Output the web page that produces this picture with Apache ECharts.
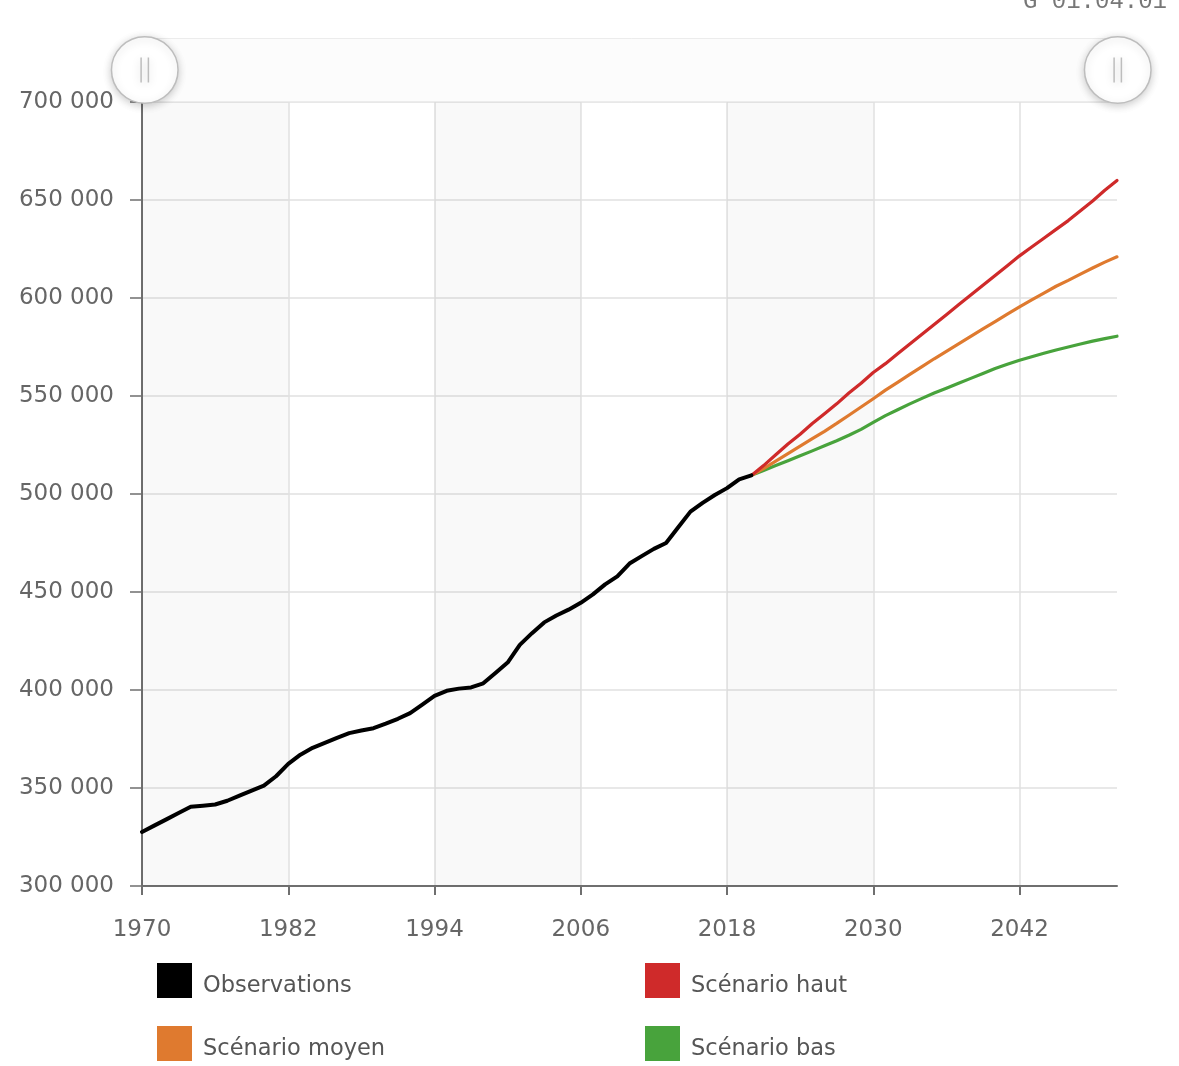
<!DOCTYPE html>
<html lang="fr">
<head>
<meta charset="utf-8">
<title>Population – observations et scénarios</title>
<script src="https://cdn.jsdelivr.net/npm/echarts@6/dist/echarts.min.js"></script>
<style>
  html, body { margin: 0; padding: 0; background: #ffffff; }
  #chart { width: 1179px; height: 1066px; }
</style>
</head>
<body>
<div id="chart"></div>
<script>
// Horizon of the chart: first and last year of the axis
const firstYear = 1970;
const lastYear = 2050;

// Ticks / labelled years on the horizontal axis (every 12 years)
const tickStep = 12;

// Observed population, one value per year from 1970 to 2020
const obsStart = 1970;
const observations = [
  327600, 330800, 334000, 337200, 340400, 341000, 341600, 343500, 346100, 348700,
  351200, 356000, 362300, 367000, 370500, 373000, 375600, 378000, 379300, 380500,
  382800, 385300, 388200, 392500, 397000, 399600, 400700, 401300, 403400, 408700,
  414000, 423000, 429000, 434500, 438000, 441000, 444500, 448800, 453900, 458000,
  464500, 468300, 472000, 475000, 483000, 491000, 495500, 499500, 503000, 507500,
  509500
];

// Projections, one value per year from 2020 to 2050
const projStart = 2020;
const scenarioHaut = [
  509500, 514500, 520000, 525500, 530500, 536000, 541000, 546000, 551500, 556500,
  562000, 566500, 571500, 576500, 581500, 586500, 591500, 596500, 601500, 606500,
  611500, 616500, 621500, 626000, 630500, 635000, 639500, 644500, 649500, 655000,
  660000
];
const scenarioMoyen = [
  509500, 513000, 516800, 520600, 524400, 528200, 532000, 536000, 540200, 544400,
  548600, 553000, 557000, 561000, 565000, 569000, 572800, 576600, 580400, 584200,
  588000, 591800, 595500, 599000, 602500, 606000, 609000, 612200, 615300, 618300,
  621000
];
const scenarioBas = [
  509500, 512000, 514500, 517000, 519500, 522000, 524600, 527200, 530000, 533000,
  536500, 540000, 543000, 546000, 548800, 551500, 554000, 556500, 559000, 561500,
  564000, 566200, 568200, 570000, 571800, 573500, 575000, 576500, 578000, 579300,
  580500
];

// Alternating shaded periods behind the curves
const shadedPeriods = [[1970, 1982], [1994, 2006], [2018, 2030]];

// Vertical axis range
const yMin = 300000;
const yMax = 700000;
const yStep = 50000;

// Series colours
const colors = {
  'Observations': '#000000',
  'Scénario haut': '#cf2a2a',
  'Scénario moyen': '#df7a2f',
  'Scénario bas': '#48a33c'
};

const years = [];
for (let y = firstYear; y <= lastYear; y++) years.push(String(y));

const toPairs = (start, values) => values.map((v, i) => [String(start + i), v]);

const fmtThousands = v => String(v).replace(/\B(?=(\d{3})+(?!\d))/g, ' ');

const font = 'DejaVu Sans, Verdana, sans-serif';

const lineSeries = (name, data, width, extra) => Object.assign({
  name: name,
  type: 'line',
  data: data,
  showSymbol: false,
  symbol: 'none',
  smooth: false,
  lineStyle: { width: width, color: colors[name], join: 'round', cap: 'round' },
  itemStyle: { color: colors[name] },
  emphasis: { disabled: true },
  animation: false
}, extra || {});

// Handle of the range slider: a circle with two vertical strokes
const handlePath = 'path://M0,-32 A32,32 0 1 1 0,32 A32,32 0 1 1 0,-32 Z ' +
  'M-3.5,-12 L-3.5,12 M3.5,-12 L3.5,12';

const legendBase = {
  orient: 'vertical',
  top: 963,
  padding: 0,
  itemWidth: 35,
  itemHeight: 35,
  itemGap: 28,
  icon: 'rect',
  selectedMode: false,
  formatter: name => '{t|' + name + '}',
  textStyle: {
    fontSize: 22.5,
    color: '#555555',
    fontFamily: font,
    rich: {
      t: {
        fontSize: 22.5,
        color: '#555555',
        fontFamily: font,
        padding: [11, 0, 0, 6]
      }
    }
  }
};

const chart = echarts.init(document.getElementById('chart'), null, { renderer: 'canvas' });

chart.setOption({
  backgroundColor: '#ffffff',
  animation: false,
  textStyle: { fontFamily: font },
  graphic: [{
    type: 'text',
    right: 12,
    top: -10,
    style: {
      text: 'G 01.04.01',
      font: '24px "Liberation Mono", monospace',
      fill: '#777777'
    }
  }],
  grid: { left: 142, right: 62, top: 102, bottom: 180, containLabel: false },
  dataZoom: [{
    type: 'slider',
    xAxisIndex: 0,
    filterMode: 'none',
    start: 0,
    end: 100,
    left: 142,
    right: 62,
    top: 38,
    height: 64,
    showDetail: false,
    showDataShadow: false,
    brushSelect: false,
    moveHandleSize: 0,
    backgroundColor: '#fcfcfc',
    borderColor: '#ececec',
    borderRadius: 0,
    fillerColor: 'rgba(0,0,0,0)',
    dataBackground: { lineStyle: { opacity: 0 }, areaStyle: { opacity: 0 } },
    selectedDataBackground: { lineStyle: { opacity: 0 }, areaStyle: { opacity: 0 } },
    handleIcon: handlePath,
    handleSize: '104%',
    handleStyle: {
      color: '#ffffff',
      borderColor: '#bdbdbd',
      borderWidth: 1.5,
      shadowBlur: 8,
      shadowColor: 'rgba(0,0,0,0.2)',
      shadowOffsetY: 2
    },
    emphasis: {
      handleStyle: { color: '#ffffff', borderColor: '#bdbdbd' }
    }
  }],
  legend: [
    Object.assign({ data: ['Observations', 'Scénario moyen'], left: 157 }, legendBase),
    Object.assign({ data: ['Scénario haut', 'Scénario bas'], left: 645 }, legendBase)
  ],
  xAxis: {
    type: 'category',
    data: years,
    boundaryGap: false,
    axisLine: { show: true, lineStyle: { color: '#6f6f6f', width: 2 } },
    axisTick: {
      show: true,
      interval: tickStep - 1,
      length: 9,
      lineStyle: { color: '#6f6f6f', width: 2 }
    },
    axisLabel: {
      interval: tickStep - 1,
      margin: 33,
      fontSize: 23,
      color: '#666666',
      fontFamily: font
    },
    splitLine: {
      show: true,
      interval: tickStep - 1,
      lineStyle: { color: '#e0e0e0', width: 1.5 }
    }
  },
  yAxis: {
    type: 'value',
    min: yMin,
    max: yMax,
    interval: yStep,
    axisLine: { show: true, lineStyle: { color: '#6f6f6f', width: 2 } },
    axisTick: { show: true, length: 12, lineStyle: { color: '#6f6f6f', width: 1.5 } },
    axisLabel: {
      margin: 28,
      fontSize: 23,
      color: '#666666',
      fontFamily: font,
      formatter: fmtThousands
    },
    splitLine: { show: true, lineStyle: { color: '#e0e0e0', width: 1.5 } }
  },
  series: [
    lineSeries('Observations', toPairs(obsStart, observations), 4, {
      z: 5,
      markArea: {
        silent: true,
        itemStyle: { color: 'rgba(0,0,0,0.024)' },
        data: shadedPeriods.map(p => [{ xAxis: String(p[0]) }, { xAxis: String(p[1]) }])
      }
    }),
    lineSeries('Scénario haut', toPairs(projStart, scenarioHaut), 3.2, { z: 4 }),
    lineSeries('Scénario moyen', toPairs(projStart, scenarioMoyen), 3.2, { z: 3 }),
    lineSeries('Scénario bas', toPairs(projStart, scenarioBas), 3.2, { z: 2 })
  ]
});
</script>
</body>
</html>
